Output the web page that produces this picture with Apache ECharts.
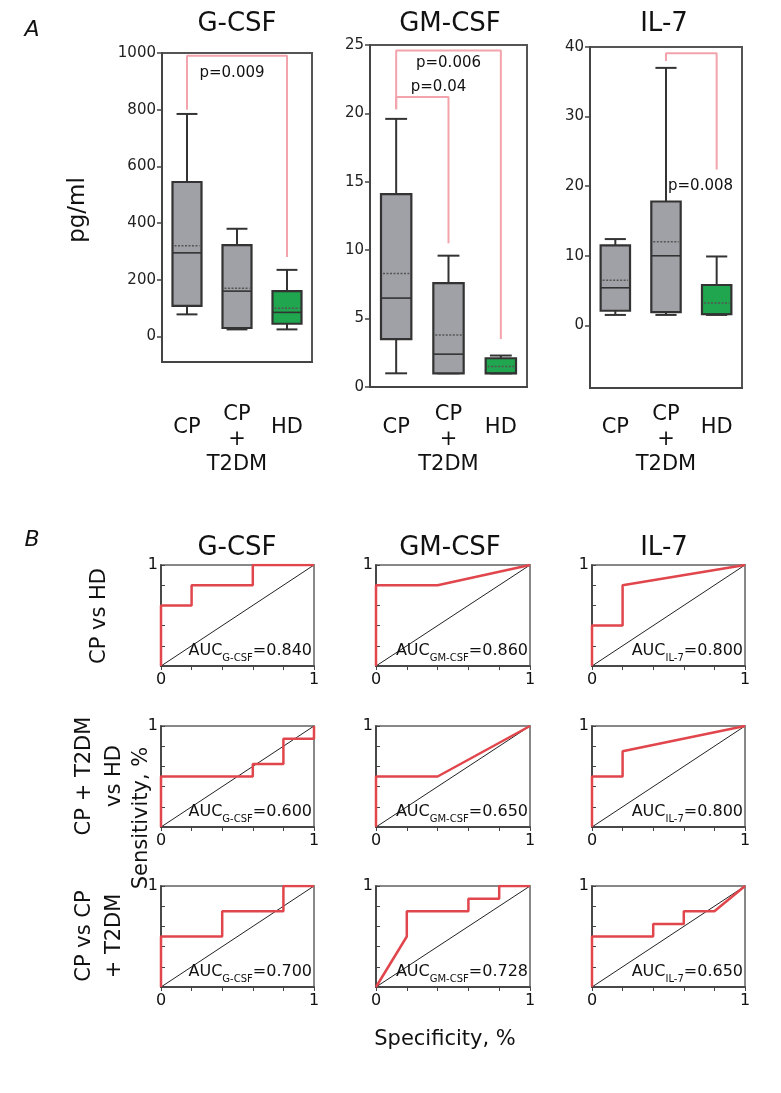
<!DOCTYPE html>
<html>
<head>
<meta charset="utf-8">
<script src="https://cdn.jsdelivr.net/npm/echarts@6/dist/echarts.min.js"></script>
<style>
  html, body { margin: 0; padding: 0; background: #fff; }
  #main { width: 781px; height: 1093px; }
</style>
</head>
<body>
<div id="main"></div>
<script>
// ---- panel A data: [low whisker, Q1, median, Q3, high whisker]
const boxCats = ["CP", "CP\n+\nT2DM", "HD"];
const gcsfBox = [[78, 108, 295, 545, 785], [25, 30, 160, 322, 380], [25, 45, 85, 160, 235]];
const gcsfMean = [320, 170, 100];
const gmcsfBox = [[1.0, 3.5, 6.5, 14.1, 19.6], [1.0, 1.0, 2.4, 7.6, 9.6], [1.0, 1.0, 1.0, 2.1, 2.3]];
const gmcsfMean = [8.3, 3.8, 1.5];
const il7Box = [[1.5, 2.1, 5.4, 11.5, 12.4], [1.5, 1.9, 10, 17.8, 37], [1.5, 1.6, 1.6, 5.8, 9.9]];
const il7Mean = [6.5, 12, 3.2];

const gcsfTicks = [0, 200, 400, 600, 800, 1000];
const gmcsfTicks = [0, 5, 10, 15, 20, 25];
const il7Ticks = [0, 10, 20, 30, 40];

// significance brackets [category index, value]
const gcsfBracket = [[0, 800], [0, 990], [2, 990], [2, 280]];
const gmcsfBracketHD = [[0, 20.3], [0, 24.6], [2, 24.6], [2, 3.5]];
const gmcsfBracketT2 = [[0, 20.3], [0, 21.2], [1, 21.2], [1, 10.5]];
const il7Bracket = [[1, 38], [1, 39.1], [2, 39.1], [2, 22.4]];

// ---- panel B data: ROC curves [1 - specificity, sensitivity]
const markers = ["G-CSF", "GM-CSF", "IL-7"];
const comparisons = ["CP vs HD", "CP + T2DM\nvs HD", "CP vs CP\n+ T2DM"];
const rocCurves = [
  [
    [[0, 0], [0, 0.6], [0.2, 0.6], [0.2, 0.8], [0.6, 0.8], [0.6, 1], [1, 1]],
    [[0, 0], [0, 0.8], [0.4, 0.8], [1, 1]],
    [[0, 0], [0, 0.4], [0.2, 0.4], [0.2, 0.8], [1, 1]]
  ],
  [
    [[0, 0], [0, 0.5], [0.6, 0.5], [0.6, 0.625], [0.8, 0.625], [0.8, 0.875], [1, 0.875], [1, 1]],
    [[0, 0], [0, 0.5], [0.4, 0.5], [1, 1]],
    [[0, 0], [0, 0.5], [0.2, 0.5], [0.2, 0.75], [1, 1]]
  ],
  [
    [[0, 0], [0, 0.5], [0.4, 0.5], [0.4, 0.75], [0.8, 0.75], [0.8, 1], [1, 1]],
    [[0, 0], [0.2, 0.5], [0.2, 0.75], [0.6, 0.75], [0.6, 0.875], [0.8, 0.875], [0.8, 1], [1, 1]],
    [[0, 0], [0, 0.5], [0.4, 0.5], [0.4, 0.625], [0.6, 0.625], [0.6, 0.75], [0.8, 0.75], [1, 1]]
  ]
];
const aucValues = [
  ["0.840", "0.860", "0.800"],
  ["0.600", "0.650", "0.800"],
  ["0.700", "0.728", "0.650"]
];
const diagonal = [[0, 0], [1, 1]];

const FONT = '"DejaVu Sans", Verdana, sans-serif';
const RED = "#e0464c";
const PINK = "#f2a3ab";

const chart = echarts.init(document.getElementById("main"));

const grids = [];
const xAxes = [];
const yAxes = [];
const series = [];
const graphics = [];

// box plot panels
const boxGrids = [
  { left: 162, top: 53, width: 150, height: 309 },
  { left: 370, top: 45, width: 157, height: 342 },
  { left: 590, top: 47, width: 152, height: 341 }
];
const boxSets = [
  { box: gcsfBox, mean: gcsfMean, ticks: gcsfTicks, min: -90, max: 1000, margin: 40 },
  { box: gmcsfBox, mean: gmcsfMean, ticks: gmcsfTicks, min: 0, max: 25, margin: 15 },
  { box: il7Box, mean: il7Mean, ticks: il7Ticks, min: -9, max: 40, margin: 14 }
];

boxSets.forEach((s, i) => {
  const g = boxGrids[i];
  grids.push({ ...g, show: true, borderColor: "#555", borderWidth: 2, backgroundColor: "transparent" });
  xAxes.push({
    gridIndex: i,
    type: "category",
    data: boxCats,
    axisLine: { onZero: false, lineStyle: { color: "#444", width: 2 } },
    axisTick: { alignWithLabel: true, length: 5, lineStyle: { color: "#444", width: 1.5 } },
    axisLabel: {
      interval: 0,
      hideOverlap: false,
      color: "#111",
      fontSize: 21,
      lineHeight: 25,
      margin: s.margin,
      fontFamily: FONT,
      formatter: (v) => (v.indexOf("\n") >= 0 ? v : "{p|" + v + "}"),
      rich: { p: { fontSize: 21, lineHeight: 51, fontFamily: FONT, color: "#111" } }
    },
    splitLine: { show: false }
  });
  yAxes.push({
    gridIndex: i,
    type: "value",
    min: s.min,
    max: s.max,
    axisLine: { show: true, lineStyle: { color: "#444", width: 2 } },
    axisTick: { show: true, length: 5, customValues: s.ticks, lineStyle: { color: "#444", width: 1.5 } },
    axisLabel: { color: "#222", fontSize: 15, margin: 6, fontFamily: FONT, customValues: s.ticks,
      formatter: (v) => String(v) },
    splitLine: { show: false }
  });
  series.push({
    type: "custom",
    xAxisIndex: i,
    yAxisIndex: i,
    data: s.box.map((b, k) => [k, ...b, s.mean[k]]),
    encode: { x: 0, y: [1, 2, 3, 4, 5, 6] },
    renderItem: (params, api) => {
      const k = api.value(0);
      const low = api.coord([k, api.value(1)]);
      const q1 = api.coord([k, api.value(2)]);
      const med = api.coord([k, api.value(3)]);
      const q3 = api.coord([k, api.value(4)]);
      const high = api.coord([k, api.value(5)]);
      const mean = api.coord([k, api.value(6)]);
      const bw = api.size([1, 0])[0] * 0.58;
      const cap = bw * 0.72;
      const cx = low[0];
      const stroke = { stroke: "#333", lineWidth: 2 };
      const fill = k === 2 ? "#1fa64e" : "#a0a1a6";
      return {
        type: "group",
        children: [
          { type: "line", shape: { x1: cx, y1: high[1], x2: cx, y2: q3[1] }, style: stroke },
          { type: "line", shape: { x1: cx, y1: q1[1], x2: cx, y2: low[1] }, style: stroke },
          { type: "line", shape: { x1: cx - cap / 2, y1: high[1], x2: cx + cap / 2, y2: high[1] }, style: stroke },
          { type: "line", shape: { x1: cx - cap / 2, y1: low[1], x2: cx + cap / 2, y2: low[1] }, style: stroke },
          { type: "rect", shape: { x: cx - bw / 2, y: q3[1], width: bw, height: q1[1] - q3[1] }, style: { fill: fill, stroke: "#333", lineWidth: 2.2 } },
          { type: "line", shape: { x1: cx - bw / 2, y1: med[1], x2: cx + bw / 2, y2: med[1] }, style: { stroke: "#333", lineWidth: 1.6 } },
          { type: "line", shape: { x1: cx - bw / 2 + 2, y1: mean[1], x2: cx + bw / 2 - 2, y2: mean[1] }, style: { stroke: "#555", lineWidth: 1.5, lineDash: [2, 1.5] } }
        ]
      };
    },
    z: 3
  });
});

// brackets
const bracketLine = (idx, data) => ({
  type: "line", xAxisIndex: idx, yAxisIndex: idx, data: data, symbol: "none",
  lineStyle: { color: PINK, width: 2 }, z: 2, silent: true
});
series.push(bracketLine(0, gcsfBracket));
series.push(bracketLine(1, gmcsfBracketHD));
series.push(bracketLine(1, gmcsfBracketT2));
series.push(bracketLine(2, il7Bracket));

const pLabel = (idx, point, text, pos, offset) => ({
  type: "scatter", xAxisIndex: idx, yAxisIndex: idx, symbolSize: 0, silent: true, z: 4,
  data: [{ value: point, name: text }],
  itemStyle: { opacity: 1 },
  label: { show: true, formatter: "{b}", position: pos, offset: offset, color: "#111", opacity: 1, fontSize: 15, fontFamily: FONT }
});
series.push(pLabel(0, [1, 930], "p=0.009", "inside", [-5, 0]));
series.push(pLabel(1, [1, 23.7], "p=0.006", "inside", [0, 0]));
series.push(pLabel(1, [1, 21.9], "p=0.04", "inside", [-10, 0]));
series.push(pLabel(2, [1, 20], "p=0.008", "right", [-3, 0]));

// ROC panels
const rocLefts = [161, 376, 592];
const rocWidths = [153, 154, 153];
const rocTops = [565, 726, 886];
const rocHeight = 101;

comparisons.forEach((cmp, r) => {
  markers.forEach((m, c) => {
    const idx = grids.length;
    const g = { left: rocLefts[c], top: rocTops[r], width: rocWidths[c], height: rocHeight };
    grids.push({ ...g, show: true, borderColor: "#888", borderWidth: 2, backgroundColor: "transparent" });
    xAxes.push({
      gridIndex: idx, type: "value", min: 0, max: 1, interval: 0.2,
      axisLine: { onZero: false, lineStyle: { color: "#333", width: 1.5 } },
      axisTick: { show: true, length: 4, lineStyle: { color: "#444" } },
      axisLabel: { color: "#111", fontSize: 16, margin: 6, fontFamily: FONT,
        formatter: (v) => (v === 0 || v === 1 ? String(v) : "") },
      splitLine: { show: false }
    });
    yAxes.push({
      gridIndex: idx, type: "value", min: 0, max: 1, interval: 0.2,
      axisLine: { show: true, lineStyle: { color: "#333", width: 1.5 } },
      axisTick: { show: true, inside: true, length: 4, lineStyle: { color: "#444" } },
      axisLabel: { color: "#111", fontSize: 16, margin: 3, fontFamily: FONT,
        formatter: (v) => (v === 1 ? "1" : "") },
      splitLine: { show: false }
    });
    series.push({
      type: "line", xAxisIndex: idx, yAxisIndex: idx, data: diagonal, symbol: "none",
      lineStyle: { color: "#222", width: 1 }, z: 2, silent: true
    });
    series.push({
      type: "line", xAxisIndex: idx, yAxisIndex: idx, data: rocCurves[r][c], symbol: "none",
      lineStyle: { color: RED, width: 2.5 }, z: 3, silent: true
    });
    graphics.push({
      type: "text",
      x: g.left + g.width - 2,
      y: g.top + g.height - 3,
      z: 10,
      style: {
        text: "{m|AUC}{s|" + m + "}{m|=" + aucValues[r][c] + "}",
        align: "right",
        verticalAlign: "bottom",
        rich: {
          m: { fontSize: 16, lineHeight: 20, verticalAlign: "top", fill: "#111", fontFamily: FONT },
          s: { fontSize: 10, lineHeight: 8, verticalAlign: "bottom", fill: "#111", fontFamily: FONT }
        }
      }
    });
  });
});

// titles and labels
const txt = (text, x, y, size, extra) => ({
  type: "text", x: x, y: y, z: 10,
  style: Object.assign({ text: text, align: "center", verticalAlign: "middle", fontSize: size, fill: "#111", fontFamily: FONT }, extra || {})
});
const boxTitles = ["G-CSF", "GM-CSF", "IL-7"];
const titleX = [237, 450, 664];
boxTitles.forEach((t, i) => graphics.push(txt(t, titleX[i], 24, 26)));
markers.forEach((t, i) => graphics.push(txt(t, titleX[i], 548, 26)));
graphics.push(txt("A", 32, 30, 22, { fontStyle: "italic" }));
graphics.push(txt("B", 32, 540, 22, { fontStyle: "italic" }));
graphics.push(Object.assign(txt("pg/ml", 0, 0, 23), { x: 78, y: 210, rotation: Math.PI / 2 }));
graphics.push(Object.assign(txt("Sensitivity, %", 0, 0, 21), { x: 142, y: 818, rotation: Math.PI / 2 }));
graphics.push(txt("Specificity, %", 445, 1040, 21));
const rowCenters = [616, 776, 936];
const rowX = [100, 100, 100];
comparisons.forEach((t, r) => {
  graphics.push(Object.assign(txt(t, 0, 0, 21, { lineHeight: 30 }), { x: rowX[r], y: rowCenters[r], rotation: Math.PI / 2 }));
});

chart.setOption({
  animation: false,
  backgroundColor: "#fff",
  textStyle: { fontFamily: FONT },
  grid: grids,
  xAxis: xAxes,
  yAxis: yAxes,
  series: series,
  graphic: graphics
});
</script>
</body>
</html>
